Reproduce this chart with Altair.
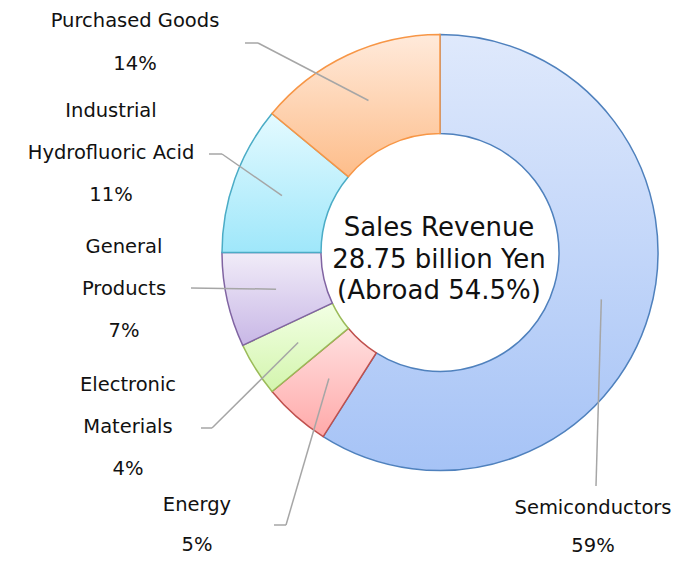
import math
import altair as alt
import pandas as pd

# ---- data ----
categories = ["Semiconductors", "Energy", "Electronic Materials",
              "General Products", "Industrial Hydrofluoric Acid", "Purchased Goods"]
values = [59, 5, 4, 7, 11, 14]
label_lines = [["Semiconductors"], ["Energy"], ["Electronic", "Materials"],
               ["General", "Products"], ["Industrial", "Hydrofluoric Acid"],
               ["Purchased Goods"]]
center_lines = ["Sales Revenue", "28.75 billion Yen", "(Abroad 54.5%)"]

# ---- styles ----
fill_top = ["#dfe9fc", "#ffe0e0", "#f2ffe4", "#f1ecf8", "#e4faff", "#ffeadb"]
fill_bottom = ["#a6c3f6", "#ffa9a9", "#d3f5ad", "#c8b7e6", "#9fe7fa", "#fdbd8a"]
strokes = ["#4f81bd", "#c0504d", "#9bbb59", "#8064a2", "#4bacc6", "#f79646"]

# ---- layout (chart pixel coordinates, page minus 8px margin) ----
M = 8
CX, CY = 440 - M, 252.5 - M
R_OUT, R_IN, R_MID = 218, 119, 168
# label block: center x, first-line y, line spacing ; leader elbow (x, y) ; leader end x
label_pos = [(593, 508, 38), (197, 505, 40), (128, 385, 42), (124, 247, 42),
             (111, 111, 42), (135, 21, 43)]
elbows = [(596, 486), (286, 525), (212, 428), (191, 288), (222, 154), (258, 43)]
ends_x = [596, 274, 201, 191, 209, 245]

df = pd.DataFrame({
    "category": categories,
    "value": values,
    "order": list(range(len(categories))),
    "ex": [e[0] - M for e in elbows],
    "ey": [e[1] - M for e in elbows],
    "endx": [x - M for x in ends_x],
})

base = (alt.Chart(df)
        .transform_window(cum="sum(value)", sort=[alt.SortField("order")])
        .transform_calculate(start="datum.cum - datum.value"))

theta_scale = alt.Scale(domain=[0, 100], range=[0, 2 * math.pi])

layers = []
for i, cat in enumerate(categories):
    grad = alt.Gradient(
        gradient="linear",
        stops=[alt.GradientStop(color=fill_top[i], offset=0),
               alt.GradientStop(color=fill_bottom[i], offset=1)],
        x1=0, x2=0, y1=0, y2=1)
    arc = (base.transform_filter(alt.datum.category == cat)
           .mark_arc(radius=R_OUT, innerRadius=R_IN, fill=grad,
                     stroke=strokes[i], strokeWidth=1.5)
           .encode(theta=alt.Theta("start:Q", scale=theta_scale),
                   theta2="cum",
                   x=alt.value(CX), y=alt.value(CY)))
    layers.append(arc)

lead = base.transform_calculate(
    mid="(datum.start + datum.cum) / 2 * 2 * PI / 100",
).transform_calculate(
    ix=f"{CX} + {R_MID} * sin(datum.mid)",
    iy=f"{CY} - {R_MID} * cos(datum.mid)",
)
seg1 = lead.mark_rule(color="#a6a6a6", strokeWidth=1.5).encode(
    x=alt.X("ix:Q", scale=None), y=alt.Y("iy:Q", scale=None),
    x2="ex", y2="ey")
seg2 = lead.mark_rule(color="#a6a6a6", strokeWidth=1.5).encode(
    x=alt.X("ex:Q", scale=None), y=alt.Y("ey:Q", scale=None),
    x2="endx", y2="ey")
layers += [seg1, seg2]

rows = []
for i, lines in enumerate(label_lines):
    lx, ly, lh = label_pos[i]
    allines = lines + [f"{values[i]}%"]
    for j, t in enumerate(allines):
        rows.append({"text": t, "x": lx - M, "y": ly - M + j * lh})
lab_df = pd.DataFrame(rows)
labels = alt.Chart(lab_df).mark_text(
    font="DejaVu Sans", fontSize=19.5, color="#111111",
    align="center", baseline="middle").encode(
    x=alt.X("x:Q", scale=None), y=alt.Y("y:Q", scale=None), text="text:N")
layers.append(labels)

cen_df = pd.DataFrame({"text": center_lines,
                       "x": [439 - M] * 3,
                       "y": [228 - M, 260 - M, 291 - M]})
center = alt.Chart(cen_df).mark_text(
    font="DejaVu Sans", fontSize=26, color="#111111",
    align="center", baseline="middle").encode(
    x=alt.X("x:Q", scale=None), y=alt.Y("y:Q", scale=None), text="text:N")
layers.append(center)

chart = (alt.layer(*layers)
         .properties(width=666, height=550, autosize="none", padding=0)
         .configure_view(stroke=None))

chart.save("out.html", embed_options={"renderer": "svg", "actions": False})
